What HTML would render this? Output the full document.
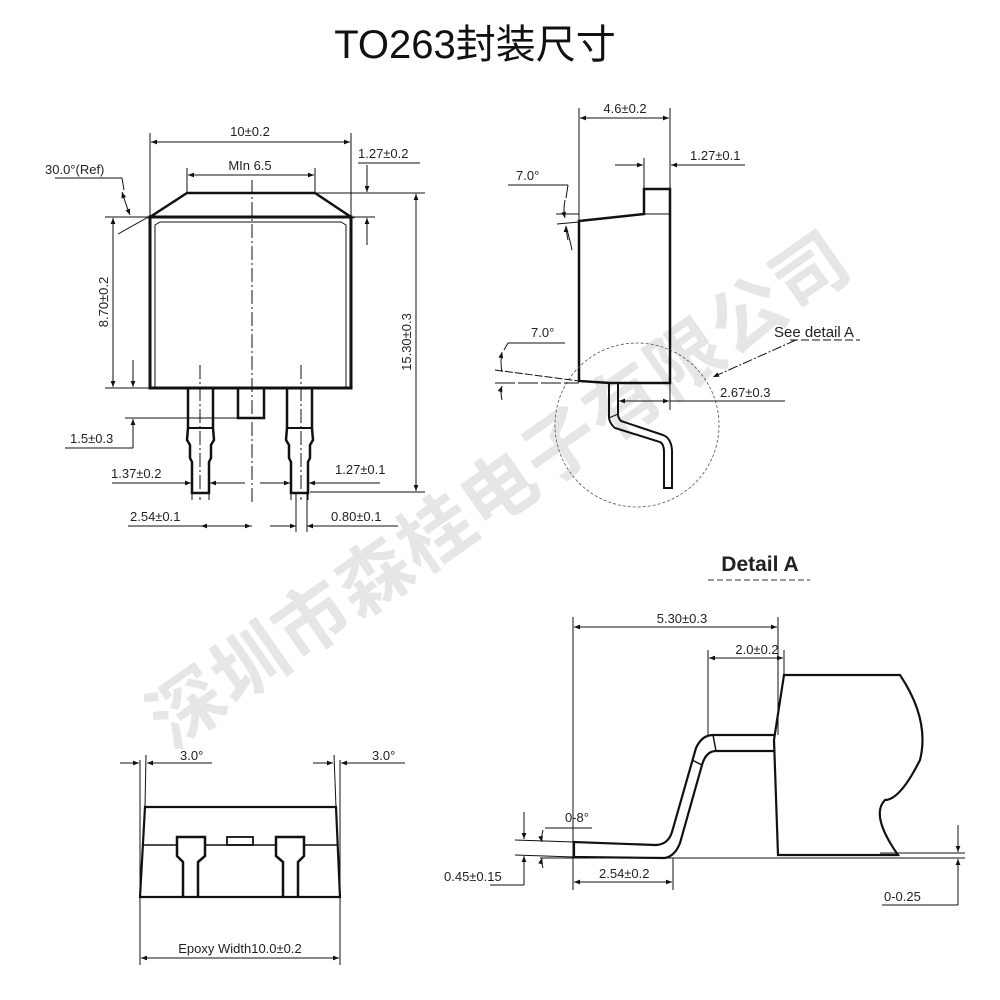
<!DOCTYPE html>
<html><head><meta charset="utf-8"><style>
html,body{margin:0;padding:0;background:#fff;}
svg{display:block;}
text{font-family:"Liberation Sans","Noto Sans CJK SC",sans-serif;fill:#222;}
</style></head><body>
<svg width="1000" height="1000" viewBox="0 0 1000 1000" xmlns="http://www.w3.org/2000/svg">
<defs>
<marker id="a" viewBox="0 0 10 10" refX="10" refY="5" markerWidth="9" markerHeight="6" orient="auto-start-reverse" markerUnits="userSpaceOnUse"><path d="M0,1 L10,5 L0,9 z" fill="#111"/></marker>
</defs>
<text x="500" y="515" font-size="74" font-weight="bold" text-anchor="middle" fill="#e6e6e6" style="fill:#e6e6e6" transform="rotate(-35 500 490)" letter-spacing="2">深圳市森桂电子有限公司</text>

<text x="475" y="58" font-size="40" text-anchor="middle" fill="#111" style="fill:#111">TO263封装尺寸</text>

<g stroke="#111" fill="none">
<path d="M150,217 L187,193 L315,193 L351,217 Z" stroke-width="2.5"/>
<rect x="150" y="217" width="201" height="171" stroke-width="3"/>
<path d="M155,388 L155,225 L160,222 L341,222 L346,225 L346,388" stroke-width="1"/>
<line x1="252" y1="180" x2="252" y2="505" stroke-width="1" stroke-dasharray="14,3,2,3"/>
<line x1="200" y1="365" x2="200" y2="500" stroke-width="1" stroke-dasharray="14,3,2,3"/>
<line x1="301" y1="365" x2="301" y2="500" stroke-width="1" stroke-dasharray="14,3,2,3"/>
<path d="M188,388 L188,428 L187,440 L190,445 L190,458 L192,462 L192,493 L209,493 L209,462 L211,458 L211,445 L214,440 L213,428 L213,388" stroke-width="2.5"/>
<line x1="188" y1="428" x2="213" y2="428" stroke-width="2"/>
<path d="M287,388 L287,428 L286,440 L289,445 L289,458 L291,462 L291,493 L308,493 L308,462 L310,458 L310,445 L313,440 L312,428 L312,388" stroke-width="2.5"/>
<line x1="287" y1="428" x2="312" y2="428" stroke-width="2"/>
<rect x="238" y="388" width="26" height="30" stroke-width="2.5"/>
<g stroke-width="1">
<line x1="150" y1="133" x2="150" y2="217"/><line x1="351" y1="133" x2="351" y2="217"/>
<line x1="151" y1="142" x2="350" y2="142" marker-start="url(#a)" marker-end="url(#a)"/>
<line x1="187" y1="168" x2="187" y2="193"/><line x1="315" y1="168" x2="315" y2="193"/>
<line x1="188" y1="175" x2="314" y2="175" marker-start="url(#a)" marker-end="url(#a)"/>
<line x1="315" y1="193" x2="425" y2="193"/><line x1="351" y1="217" x2="375" y2="217"/>
<line x1="105" y1="217" x2="150" y2="217"/>
<line x1="367" y1="165" x2="367" y2="192" marker-end="url(#a)"/>
<line x1="367" y1="245" x2="367" y2="218" marker-end="url(#a)"/>
<line x1="358" y1="163" x2="420" y2="163"/>
<line x1="416" y1="194" x2="416" y2="491" marker-start="url(#a)" marker-end="url(#a)"/>
<line x1="310" y1="492" x2="425" y2="492"/>
<line x1="113" y1="218" x2="113" y2="387" marker-start="url(#a)" marker-end="url(#a)"/>
<line x1="105" y1="388" x2="150" y2="388"/>
<line x1="125" y1="418" x2="238" y2="418"/>
<line x1="133" y1="360" x2="133" y2="387" marker-end="url(#a)"/>
<line x1="133" y1="448" x2="133" y2="419" marker-end="url(#a)"/>
<line x1="65" y1="448" x2="133" y2="448"/>
<line x1="112" y1="483" x2="191" y2="483" marker-end="url(#a)"/>
<line x1="245" y1="483" x2="210" y2="483" marker-end="url(#a)"/>
<line x1="260" y1="483" x2="290" y2="483" marker-end="url(#a)"/>
<line x1="380" y1="483" x2="309" y2="483" marker-end="url(#a)"/>
<line x1="128" y1="526" x2="252" y2="526"/>
<line x1="201" y1="526" x2="251" y2="526" marker-start="url(#a)" marker-end="url(#a)"/>
<line x1="270" y1="526" x2="296" y2="526" marker-end="url(#a)"/>
<line x1="330" y1="526" x2="307" y2="526" marker-end="url(#a)"/>
<line x1="307" y1="526" x2="398" y2="526"/>
<line x1="296" y1="493" x2="296" y2="532"/><line x1="307" y1="493" x2="307" y2="532"/>
<line x1="192" y1="470" x2="192" y2="500"/><line x1="209" y1="470" x2="209" y2="500"/>
<line x1="291" y1="470" x2="291" y2="500"/><line x1="308" y1="470" x2="308" y2="500"/>
<line x1="55" y1="178" x2="122" y2="178"/><line x1="122" y1="178" x2="124" y2="190"/>
<path d="M122,192 Q126,205 130,215" marker-start="url(#a)" marker-end="url(#a)"/>
<line x1="118" y1="234" x2="152" y2="215"/>
</g>

<path d="M579,381 L579,221 L644,214 L644,189 L670,189 L670,383 L610,383 Z" stroke-width="2.5"/>
<line x1="644" y1="214" x2="670" y2="214" stroke-width="1"/>
<path d="M609,383 L609,418 Q610,424 615,428 L660,442 Q664,444 664,452 L664,488 L672,488 L672,450 Q671,438 663,435 L621,421 Q618,418 618,414 L618,383" stroke-width="2"/>
<line x1="609" y1="418" x2="618" y2="414" stroke-width="1"/>
<circle cx="637" cy="425" r="82" stroke-width="0.8" stroke-dasharray="3,2" stroke="#555"/>
<g stroke-width="1">
<line x1="579" y1="108" x2="579" y2="221"/><line x1="670" y1="108" x2="670" y2="189"/>
<line x1="580" y1="118" x2="669" y2="118" marker-start="url(#a)" marker-end="url(#a)"/>
<line x1="644" y1="158" x2="644" y2="189"/>
<line x1="615" y1="165" x2="643" y2="165" marker-end="url(#a)"/>
<line x1="745" y1="165" x2="671" y2="165" marker-end="url(#a)"/>
<line x1="508" y1="185" x2="568" y2="185"/><line x1="568" y1="185" x2="566" y2="198"/>
<path d="M565,200 Q563,210 565,218" marker-end="url(#a)"/>
<path d="M568,240 Q566,230 566,226" marker-end="url(#a)"/>
<line x1="556" y1="214" x2="579" y2="214"/><line x1="557" y1="224" x2="579" y2="222"/>
<path d="M566,226 Q570,240 572,250"/>
<line x1="508" y1="343" x2="565" y2="343"/><line x1="508" y1="343" x2="504" y2="350"/>
<path d="M502,352 Q500,362 502,372" marker-start="url(#a)"/>
<path d="M502,400 Q500,392 502,386" marker-end="url(#a)"/>
<line x1="495" y1="370" x2="579" y2="381" stroke-dasharray="8,2"/>
<line x1="495" y1="383" x2="579" y2="383" stroke-dasharray="20,3"/>
<line x1="670" y1="383" x2="670" y2="410"/>
<line x1="645" y1="401" x2="619" y2="401" marker-end="url(#a)"/>
<line x1="645" y1="401" x2="669" y2="401" marker-end="url(#a)"/>
<line x1="670" y1="401" x2="785" y2="401"/>
<line x1="796" y1="340" x2="713" y2="377" stroke-dasharray="10,2,2,2" marker-end="url(#a)"/>
<line x1="790" y1="340" x2="860" y2="340" stroke-dasharray="8,3"/>
</g>

<path d="M784,675 L900,675 Q930,720 920,760 Q900,800 885,800 Q870,815 898,855 L778,855 L774,740 Z" stroke-width="2.2"/>
<path d="M774,735 L713,735 Q702,735 696,748 L672,832 Q668,845 655,845 L574,842 L574,857 L665,858 Q675,856 680,843 L702,765 Q706,751 716,751 L774,751" stroke-width="2.2"/>
<line x1="713" y1="735" x2="716" y2="751" stroke-width="1.5"/>
<line x1="692" y1="760" x2="702" y2="765" stroke-width="1.5"/>
<g stroke-width="1">
<line x1="573" y1="617" x2="573" y2="890"/>
<line x1="574" y1="627" x2="777" y2="627" marker-start="url(#a)" marker-end="url(#a)"/>
<line x1="778" y1="617" x2="778" y2="735"/>
<line x1="708" y1="650" x2="708" y2="735"/><line x1="784" y1="650" x2="784" y2="675"/>
<line x1="709" y1="658" x2="783" y2="658" marker-start="url(#a)" marker-end="url(#a)"/>
<line x1="540" y1="858" x2="965" y2="858"/>
<line x1="880" y1="853" x2="965" y2="853"/>
<line x1="958" y1="825" x2="958" y2="852" marker-end="url(#a)"/>
<line x1="958" y1="905" x2="958" y2="859" marker-end="url(#a)"/>
<line x1="882" y1="905" x2="958" y2="905"/>
<line x1="673" y1="858" x2="673" y2="890"/>
<line x1="574" y1="882" x2="672" y2="882" marker-start="url(#a)" marker-end="url(#a)"/>
<line x1="515" y1="840" x2="574" y2="842"/><line x1="515" y1="855" x2="574" y2="857"/>
<line x1="524" y1="812" x2="524" y2="839" marker-end="url(#a)"/>
<line x1="524" y1="885" x2="524" y2="856" marker-end="url(#a)"/>
<line x1="490" y1="885" x2="524" y2="885"/>
<line x1="545" y1="828" x2="592" y2="828"/>
<path d="M543,830 Q541,838 542,842" marker-end="url(#a)"/>
<path d="M543,868 Q541,862 542,858" marker-end="url(#a)"/>
</g>

<path d="M145,807 L336,807 L340,897 L140,897 Z" stroke-width="2.2"/>
<line x1="143" y1="845" x2="177" y2="845" stroke-width="1.5"/>
<line x1="205" y1="845" x2="276" y2="845" stroke-width="1.5"/>
<line x1="304" y1="845" x2="338" y2="845" stroke-width="1.5"/>
<path d="M183,897 L183,862 L177,856 L177,837 L205,837 L205,856 L198,862 L198,897" stroke-width="2.5"/>
<path d="M283,897 L283,862 L276,856 L276,837 L304,837 L304,856 L298,862 L298,897" stroke-width="2.5"/>
<rect x="227" y="837" width="26" height="8" stroke-width="1.8"/>
<g stroke-width="1">
<line x1="140" y1="760" x2="140" y2="965"/><line x1="340" y1="760" x2="340" y2="965"/>
<line x1="146" y1="755" x2="145" y2="807"/><line x1="334" y1="755" x2="336" y2="807"/>
<line x1="120" y1="763" x2="139" y2="763" marker-end="url(#a)"/>
<line x1="165" y1="763" x2="147" y2="763" marker-end="url(#a)"/>
<line x1="165" y1="763" x2="212" y2="763"/>
<line x1="313" y1="763" x2="333" y2="763" marker-end="url(#a)"/>
<line x1="360" y1="763" x2="341" y2="763" marker-end="url(#a)"/>
<line x1="360" y1="763" x2="405" y2="763"/>
<line x1="141" y1="958" x2="339" y2="958" marker-start="url(#a)" marker-end="url(#a)"/>
</g>
</g>

<g font-size="13">
<text x="250" y="136" text-anchor="middle">10±0.2</text>
<text x="250" y="170" text-anchor="middle">MIn 6.5</text>
<text x="358" y="158">1.27±0.2</text>
<text x="45" y="174">30.0°(Ref)</text>
<text transform="translate(108,302) rotate(-90)" text-anchor="middle">8.70±0.2</text>
<text transform="translate(411,342) rotate(-90)" text-anchor="middle">15.30±0.3</text>
<text x="70" y="443">1.5±0.3</text>
<text x="111" y="478">1.37±0.2</text>
<text x="335" y="474">1.27±0.1</text>
<text x="130" y="521">2.54±0.1</text>
<text x="331" y="521">0.80±0.1</text>
<text x="625" y="113" text-anchor="middle">4.6±0.2</text>
<text x="690" y="160">1.27±0.1</text>
<text x="516" y="180">7.0°</text>
<text x="531" y="337">7.0°</text>
<text x="774" y="337" font-size="15">See detail A</text>
<text x="720" y="397">2.67±0.3</text>
<text x="682" y="623" text-anchor="middle">5.30±0.3</text>
<text x="757" y="654" text-anchor="middle">2.0±0.2</text>
<text x="565" y="822">0-8°</text>
<text x="444" y="881">0.45±0.15</text>
<text x="599" y="878">2.54±0.2</text>
<text x="884" y="901">0-0.25</text>
<text x="180" y="760">3.0°</text>
<text x="372" y="760">3.0°</text>
<text x="240" y="953" text-anchor="middle">Epoxy Width10.0±0.2</text>
</g>
<text x="760" y="571" font-size="21" font-weight="bold" text-anchor="middle" fill="#222">Detail A</text>
<line x1="708" y1="580" x2="810" y2="580" stroke="#333" stroke-width="1" stroke-dasharray="6,3"/>
</svg>
</body></html>
